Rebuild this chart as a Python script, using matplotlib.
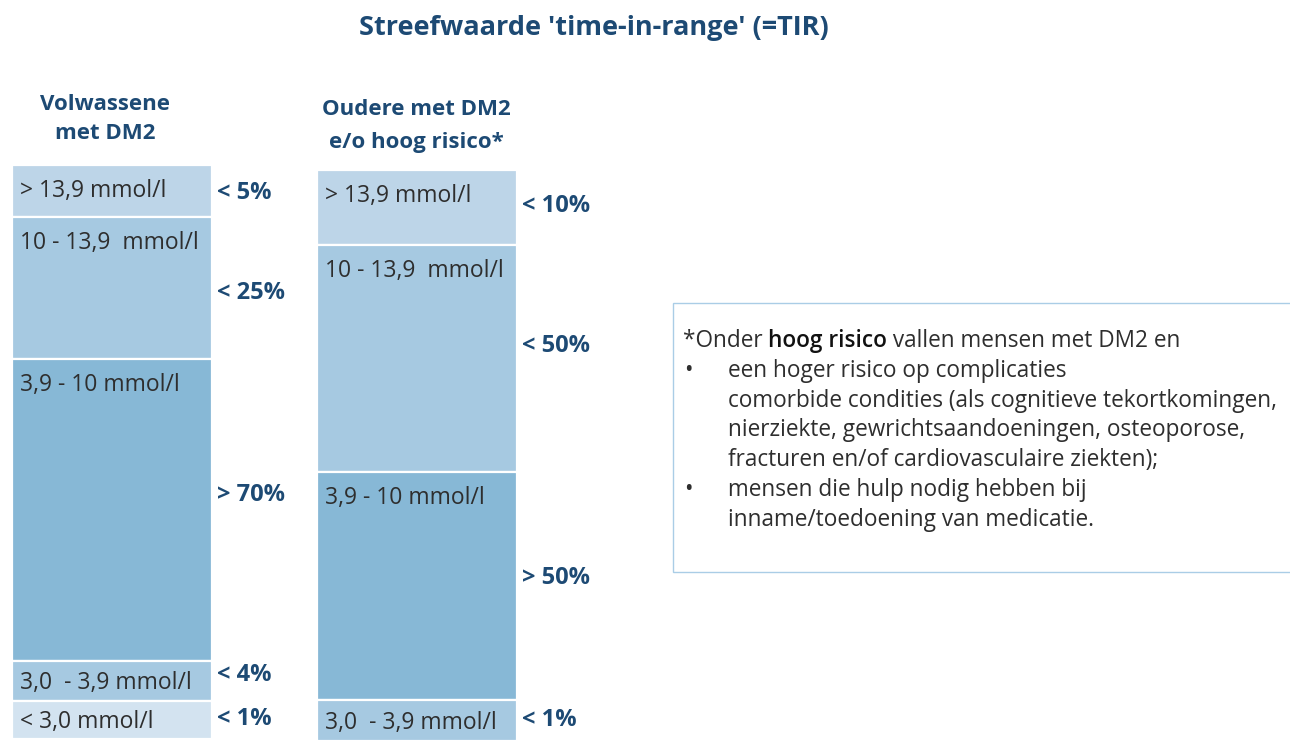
import matplotlib

matplotlib.use("Agg")
import matplotlib.pyplot as plt
from matplotlib.patches import Rectangle

INK = "#1d4a74"
TEXT = "#2e2e2e"
EDGE = "#aacde6"
SEG_COLORS = {
    "very_high": "#bdd5e8",
    "high": "#a6c9e1",
    "range": "#87b8d6",
    "low": "#a6c9e1",
    "very_low": "#d3e3f0",
}

plt.rcParams["font.family"] = ["Open Sans", "DejaVu Sans"]

# --- data -----------------------------------------------------------------
left_title = "Volwassene\nmet DM2"
left_kinds = ["very_high", "high", "range", "low", "very_low"]
left_ranges = ["> 13,9 mmol/l", "10 - 13,9  mmol/l", "3,9 - 10 mmol/l",
               "3,0  - 3,9 mmol/l", "< 3,0 mmol/l"]
left_targets = ["< 5%", "< 25%", "> 70%", "< 4%", "< 1%"]
left_heights = [52, 142, 302, 40, 38]     # drawn segment heights (as in source)

right_title = "Oudere met DM2\ne/o hoog risico*"
right_kinds = ["very_high", "high", "range", "low"]
right_ranges = ["> 13,9 mmol/l", "10 - 13,9  mmol/l", "3,9 - 10 mmol/l",
                "3,0  - 3,9 mmol/l"]
right_targets = ["< 10%", "< 50%", "> 50%", "< 1%"]
right_heights = [75, 227, 228, 41]

note_lines = [
    ("", "*Onder "),
    ("•", "een hoger risico op complicaties"),
    ("", "comorbide condities (als cognitieve tekortkomingen,"),
    ("", "nierziekte, gewrichtsaandoeningen, osteoporose,"),
    ("", "fracturen en/of cardiovasculaire ziekten);"),
    ("•", "mensen die hulp nodig hebben bij"),
    ("", "inname/toedoening van medicatie."),
]

SEG_FS = 16.5
PCT_FS = 17
NOTE_FS = 16.3


def draw_bar(ax, x_left, top, kinds, ranges, targets, heights, target_dy):
    width = 200
    bottom = top
    for i, (kind, rng, tgt, h) in enumerate(zip(kinds, ranges, targets, heights)):
        ax.bar(x_left, h, bottom=bottom, width=width, align="edge",
               color=SEG_COLORS[kind], edgecolor="white", linewidth=1.6)
        label_y = bottom + min(26, h / 2 + 2)
        weight = "medium" if kind == "range" else "normal"
        ax.text(x_left + 8, label_y, rng, ha="left", va="center",
                fontsize=SEG_FS, color=TEXT, fontweight=weight)
        ax.text(x_left + width + 5, bottom + h / 2 + target_dy[i], tgt,
                ha="left", va="center", fontsize=PCT_FS, color=INK,
                fontweight="bold")
        bottom += h


def main() -> None:
    fig = plt.figure(figsize=(12.9, 7.4), dpi=100)
    ax = fig.add_axes([0, 0, 1, 1])
    ax.set_xlim(0, 1290)
    ax.set_ylim(740, 0)
    ax.axis("off")

    ax.text(594, 28, "Streefwaarde 'time-in-range' (=TIR)", ha="center",
            va="center", fontsize=19.5, color=INK, fontweight="bold")

    ax.text(105, 119, left_title, ha="center", va="center", fontsize=16,
            color=INK, fontweight="bold", linespacing=1.55)
    ax.text(416, 126, right_title, ha="center", va="center", fontsize=16,
            color=INK, fontweight="bold", linespacing=1.75)

    draw_bar(ax, 12, 165, left_kinds, left_ranges, left_targets, left_heights,
             [2, 5, -15, -6, -1])
    draw_bar(ax, 317, 170, right_kinds, right_ranges, right_targets,
             right_heights, [-1, -12, -8, -1])

    # note box
    ax.add_patch(Rectangle((673, 303), 640, 269, facecolor="white",
                           edgecolor=EDGE, linewidth=1.0))
    y0, dy = 341, 29.8
    for i, (bullet, line) in enumerate(note_lines):
        y = y0 + i * dy
        if bullet:
            ax.text(684, y, bullet, ha="left", va="center", fontsize=NOTE_FS,
                    color=TEXT)
        if i == 0:
            t = ax.text(683, y, line, ha="left", va="center", fontsize=NOTE_FS,
                        color=TEXT)
            t2 = ax.annotate("hoog risico", xycoords=t, xy=(1, 0.5),
                             ha="left", va="center", fontsize=NOTE_FS,
                             color="#111111", fontweight="semibold")
            ax.annotate(" vallen mensen met DM2 en", xycoords=t2, xy=(1, 0.5),
                        ha="left", va="center", fontsize=NOTE_FS, color=TEXT)
        else:
            ax.text(728, y, line, ha="left", va="center", fontsize=NOTE_FS,
                    color=TEXT)

    fig.savefig("out.png", dpi=100, facecolor="white")


if __name__ == "__main__":
    main()
